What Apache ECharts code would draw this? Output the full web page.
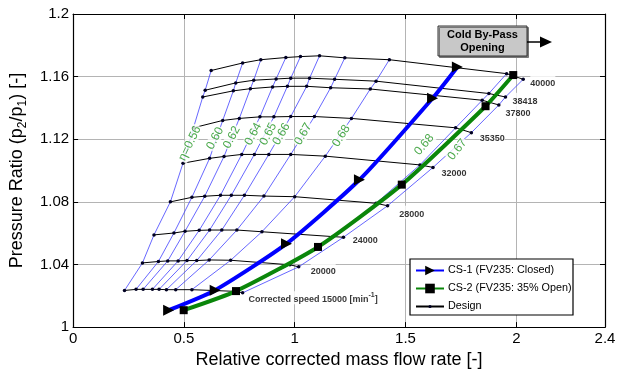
<!DOCTYPE html>
<html>
<head>
<meta charset="utf-8">
<script src="https://cdn.jsdelivr.net/npm/echarts@6/dist/echarts.min.js"></script>
<style>
  html, body { margin: 0; padding: 0; background: #fff; }
  #chart { width: 622px; height: 374px; }
</style>
</head>
<body>
<div id="chart"></div>
<script>
// speed lines, points from surge side to choke side: [flow, pressure ratio]
// point k of each line lies on efficiency contour k
const speedNames = ['15000', '20000', '24000', '28000', '32000', '35350', '37800', '38418', '40000']
const speed15000 = [[0.232,1.0234],[0.284,1.0241],[0.316,1.0241],[0.358,1.0241],[0.388,1.0241],[0.421,1.0239],[0.463,1.0239],[0.536,1.0239],[0.738,1.0228],[0.765,1.0219]]
const speed20000 = [[0.313,1.0410],[0.385,1.0419],[0.427,1.0423],[0.474,1.0423],[0.514,1.0425],[0.558,1.0425],[0.614,1.0429],[0.711,1.0427],[0.978,1.0398],[1.018,1.0385]]
const speed24000 = [[0.365,1.0589],[0.455,1.0601],[0.505,1.0612],[0.569,1.0618],[0.616,1.0620],[0.671,1.0620],[0.739,1.0620],[0.852,1.0609],[1.173,1.0578],[1.220,1.0574]]
const speed28000 = [[0.439,1.0800],[0.536,1.0829],[0.594,1.0836],[0.665,1.0842],[0.714,1.0842],[0.773,1.0842],[0.861,1.0837],[1.000,1.0833],[1.367,1.0791],[1.419,1.0775]]
const speed32000 = [[0.496,1.1047],[0.616,1.1078],[0.681,1.1090],[0.761,1.1103],[0.818,1.1103],[0.883,1.1103],[0.982,1.1103],[1.138,1.1092],[1.565,1.1036],[1.624,1.1020]]
const speed35350 = [[0.543,1.1273],[0.675,1.1320],[0.750,1.1333],[0.843,1.1343],[0.906,1.1343],[0.982,1.1345],[1.089,1.1345],[1.256,1.1333],[1.726,1.1273],[1.797,1.1242]]
const speed37800 = [[0.585,1.1470],[0.723,1.1509],[0.800,1.1523],[0.900,1.1534],[0.967,1.1538],[1.054,1.1538],[1.162,1.1529],[1.341,1.1521],[1.846,1.1449],[1.921,1.1419]]
const speed38418 = [[0.596,1.1513],[0.734,1.1560],[0.815,1.1577],[0.916,1.1585],[0.982,1.1590],[1.067,1.1590],[1.180,1.1583],[1.367,1.1571],[1.876,1.1492],[1.951,1.1470]]
const speed40000 = [[0.623,1.1639],[0.765,1.1687],[0.847,1.1708],[0.960,1.1722],[1.026,1.1728],[1.112,1.1733],[1.226,1.1720],[1.427,1.1708],[1.956,1.1619],[2.031,1.1583]]
const speedLines = [speed15000, speed20000, speed24000, speed28000, speed32000, speed35350, speed37800, speed38418, speed40000]

// speed line labels (left edge of text)
const speedLabelPos = [[0.791,1.0187],[1.072,1.0367],[1.262,1.0568],[1.472,1.0734],[1.662,1.0993],[1.835,1.1217],[1.951,1.1378],[1.983,1.1455],[2.063,1.1571]]

// efficiency contour labels (text centre) and their slant in degrees
const effLabels = ['η=0.56', '0.60', '0.62', '0.64', '0.65', '0.66', '0.67', '0.68', '0.68', '0.67']
const effLabelPos = [[0.527,1.1173],[0.641,1.1206],[0.716,1.1212],[0.813,1.1233],[0.881,1.1233],[0.940,1.1233],[1.038,1.1233],[1.210,1.1221],[1.584,1.1165],[1.734,1.1134]]
const effLabelRot = [64, 62, 62, 62, 62, 60, 60, 58, 50, 52]

// operating lines
const cs1 = [[0.431,1.0108],[0.641,1.0236],[0.963,1.0533],[1.292,1.0941],[1.622,1.1462],[1.734,1.1662]]
const cs2 = [[0.499,1.0108],[0.735,1.0230],[1.105,1.0512],[1.483,1.0910],[1.861,1.1411],[1.986,1.1610]]

const FONT = 'Arial, "Liberation Sans", sans-serif'
const chart = echarts.init(document.getElementById('chart'))

const series = []

// speed lines (Design)
speedLines.forEach((pts) => {
  series.push({
    name: 'Design',
    type: 'line',
    data: pts,
    z: 3,
    symbol: 'circle',
    symbolSize: 3.5,
    itemStyle: { color: '#000022' },
    lineStyle: { color: '#000', width: 1 },
    silent: true
  })
})

// efficiency contours: same index point on each speed line
for (let k = 0; k < effLabels.length; k++) {
  series.push({
    name: 'eff' + k,
    type: 'line',
    data: speedLines.map(pts => pts[k]),
    z: 2,
    symbol: 'none',
    lineStyle: { color: '#4040ff', width: 0.8 },
    silent: true
  })
}

series.push({
  name: 'CS-1 (FV235: Closed)',
  type: 'line',
  data: cs1,
  z: 4,
  smooth: 0.2,
  symbol: 'triangle',
  symbolRotate: -90,
  symbolSize: 11,
  itemStyle: { color: '#000' },
  lineStyle: { color: '#0000ff', width: 4 },
  silent: true
})

series.push({
  name: 'CS-2 (FV235: 35% Open)',
  type: 'line',
  data: cs2,
  z: 4,
  smooth: 0.2,
  symbol: 'rect',
  symbolSize: 8,
  itemStyle: { color: '#000' },
  lineStyle: { color: '#0a860a', width: 4 },
  silent: true
})

// efficiency labels
series.push({
  name: 'effLabels',
  type: 'scatter',
  z: 5,
  symbolSize: 0,
  silent: true,
  data: effLabelPos.map((p, i) => ({
    value: p,
    label: { rotate: effLabelRot[i], formatter: effLabels[i] }
  })),
  label: {
    show: true,
    position: 'inside',
    color: '#1d941d',
    fontFamily: FONT,
    fontSize: 12,
    backgroundColor: '#fff',
    padding: [0, 1]
  }
})

// speed labels
series.push({
  name: 'speedLabels',
  type: 'scatter',
  z: 5,
  symbolSize: 0,
  silent: true,
  data: speedLabelPos.map((p, i) => ({
    value: p,
    label: {
      formatter: i === 0
        ? '{b|Corrected speed 15000 [min}{s|-1}{b|]}'
        : '{b|' + speedNames[i] + '}'
    }
  })),
  label: {
    show: true,
    position: 'right',
    distance: 0,
    backgroundColor: '#fff',
    rich: {
      b: { fontFamily: FONT, fontSize: 9, fontWeight: 'bold', color: '#000', lineHeight: 13, verticalAlign: 'bottom' },
      s: { fontFamily: FONT, fontSize: 7, fontWeight: 'bold', color: '#000', lineHeight: 13, verticalAlign: 'top' }
    }
  }
})

const axisCommon = {
  type: 'value',
  axisLine: { show: true, onZero: false, lineStyle: { color: '#000', width: 1.2 } },
  axisTick: { show: true, inside: true, length: 5, lineStyle: { color: '#000' } },
  splitLine: { show: false }
}

const legendCommon = {
  orient: 'vertical',
  itemWidth: 28,
  itemGap: 7,
  padding: 0,
  selectedMode: false,
  z: 6,
  textStyle: { fontFamily: FONT, fontSize: 10.8, color: '#000', padding: [0, 0, 0, -1] }
}

chart.setOption({
  animation: false,
  textStyle: { fontFamily: FONT },
  grid: { left: 71, right: 17, top: 14, bottom: 38 },
  legend: [
    Object.assign({}, legendCommon, {
      data: ['CS-1 (FV235: Closed)', 'CS-2 (FV235: 35% Open)'],
      left: 415,
      top: 265,
      itemHeight: 12
    }),
    Object.assign({}, legendCommon, {
      data: ['Design'],
      left: 415,
      top: 301,
      itemHeight: 4
    })
  ],
  xAxis: [
    Object.assign({}, axisCommon, {
      min: 0, max: 2.4, interval: 0.5,
      position: 'bottom',
      axisLabel: { color: '#000', fontSize: 15, margin: 4, fontFamily: FONT },
      splitLine: { show: true, lineStyle: { color: '#b4b4b4', width: 1 } },
      name: 'Relative corrected mass flow rate [-]',
      nameLocation: 'middle',
      nameGap: 19,
      nameTextStyle: { fontSize: 18, color: '#000', fontFamily: FONT, verticalAlign: 'top' }
    }),
    Object.assign({}, axisCommon, {
      min: 0, max: 2.4, interval: 0.5,
      position: 'top',
      axisLabel: { show: false }
    })
  ],
  yAxis: [
    Object.assign({}, axisCommon, {
      min: 1, max: 1.2, interval: 0.04,
      position: 'left',
      axisLabel: { color: '#000', fontSize: 15, margin: 4, fontFamily: FONT },
      splitLine: { show: true, lineStyle: { color: '#b4b4b4', width: 1 } },
      name: '{n|Pressure Ratio (p}{s|2}{n|/p}{s|1}{n|) [-]}',
      nameLocation: 'middle',
      nameGap: 40,
      nameRotate: 90,
      nameTextStyle: {
        rich: {
          n: { fontSize: 18, color: '#000', fontFamily: FONT, lineHeight: 24, verticalAlign: 'middle' },
          s: { fontSize: 12, color: '#000', fontFamily: FONT, lineHeight: 24, verticalAlign: 'bottom' }
        }
      }
    }),
    Object.assign({}, axisCommon, {
      min: 1, max: 1.2, interval: 0.04,
      position: 'right',
      axisLabel: { show: false }
    })
  ],
  graphic: [
    {
      // legend frame
      type: 'rect',
      shape: { x: 410, y: 259, width: 163, height: 56 },
      style: { fill: '#fff', stroke: '#000', lineWidth: 1.2 },
      z: 5
    },
    {
      type: 'rect',
      shape: { x: 438, y: 26, width: 89, height: 30 },
      style: { fill: '#c8c8c8', stroke: '#333', lineWidth: 1, shadowColor: '#777', shadowOffsetX: 1.5, shadowOffsetY: 1.5 },
      z: 10
    },
    {
      type: 'text',
      x: 482.5, y: 41,
      style: {
        text: 'Cold By-Pass\nOpening',
        fill: '#000',
        font: 'bold 11px ' + FONT,
        textAlign: 'center',
        textVerticalAlign: 'middle',
        lineHeight: 13
      },
      z: 11
    },
    {
      type: 'line',
      shape: { x1: 527, y1: 42, x2: 542, y2: 42 },
      style: { stroke: '#000', lineWidth: 1.5 },
      z: 10
    },
    {
      type: 'polygon',
      shape: { points: [[540, 36.5], [552, 42], [540, 47.5]] },
      style: { fill: '#000' },
      z: 10
    }
  ],
  series: series
})
</script>
</body>
</html>
